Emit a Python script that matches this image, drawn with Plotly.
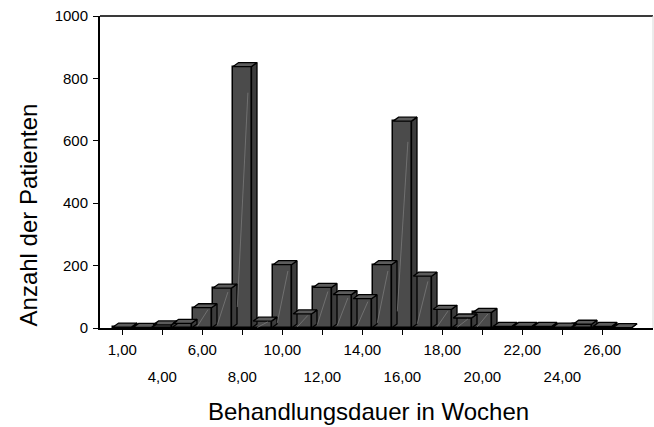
import plotly.graph_objects as go

# ---- data ----
weeks = [1, 2, 4, 5, 6, 7, 8, 9, 10, 11, 12, 13, 14, 15, 16, 17, 18, 19, 20,
         21, 22, 23, 24, 25, 26, 27]
patients = [3, 2, 10, 15, 65, 128, 838, 22, 203, 45, 130, 107, 94, 203, 663,
            166, 60, 32, 50, 5, 5, 5, 3, 12, 5, 1]
week_labels = ["%d,00" % w for w in weeks]
y_ticks = [0, 200, 400, 600, 800, 1000]

FONT = "Liberation Sans, Arial, sans-serif"
W = 0.92        # front face width (category units)
DX = 0.275      # depth offset x (category units)
DY = 12.8       # depth offset y (value units)

idx = list(range(len(weeks)))

# side faces, top faces and the faint shading streaks, built from data
side_x, side_y, top_x, top_y, st_x, st_y = [], [], [], [], [], []
for i, v in zip(idx, patients):
    r = i + W / 2
    l = i - W / 2
    side_x += [r, r + DX, r + DX, r, r, None]
    side_y += [0, DY, v + DY, v, 0, None]
    top_x += [l, l + DX, r + DX, r, l, None]
    top_y += [v, v + DY, v + DY, v, v, None]
    if v >= 20:
        st_x += [i - 0.25, i + 0.28, None]
        st_y += [v * 0.08, v * 0.9, None]

fig = go.Figure()
fig.add_trace(go.Scatter(x=side_x, y=side_y, mode="lines", fill="toself",
                         fillcolor="#3c3c3c", line=dict(color="black", width=1.3),
                         hoverinfo="skip", showlegend=False))
fig.add_trace(go.Scatter(x=top_x, y=top_y, mode="lines", fill="toself",
                         fillcolor="#5c5c5c", line=dict(color="black", width=1.3),
                         hoverinfo="skip", showlegend=False))
fig.add_trace(go.Bar(x=idx, y=patients, width=W,
                     marker=dict(color="#4b4b4b", line=dict(color="black", width=1.5)),
                     hoverinfo="skip", showlegend=False))
fig.add_trace(go.Scatter(x=st_x, y=st_y, mode="lines",
                         line=dict(color="#7a7a7a", width=0.8),
                         hoverinfo="skip", showlegend=False))
# invisible helper trace for the second label row axis
fig.add_trace(go.Scatter(x=[idx[0]], y=[0], xaxis="x2", mode="markers",
                         marker=dict(opacity=0), hoverinfo="skip", showlegend=False))

row2 = [i for i in idx if i % 4 == 2]
all_ticks = [i for i in idx if i % 2 == 0]
xr = [-1.115, 26.535]

fig.update_layout(
    width=654, height=427, autosize=False,
    margin=dict(l=100, r=1, t=16, b=99, autoexpand=False),
    paper_bgcolor="white", plot_bgcolor="white",
    font=dict(family=FONT, color="black", size=15),
    bargap=0,
    xaxis=dict(range=xr, tickmode="array", tickvals=all_ticks,
               ticktext=[week_labels[i] if i % 4 == 0 else "" for i in all_ticks],
               ticks="outside", ticklen=5, tickwidth=1, tickcolor="black",
               showline=True, linecolor="black", linewidth=2,
               showgrid=False, zeroline=False, ticklabelstandoff=2,
               tickfont=dict(size=15)),
    xaxis2=dict(range=xr, overlaying="x", anchor="y", side="bottom",
                tickmode="array", tickvals=row2,
                ticktext=[week_labels[i] for i in row2],
                ticks="", showline=False, showgrid=False, zeroline=False,
                ticklabelstandoff=38, tickfont=dict(size=15)),
    yaxis=dict(range=[0, 1000], tickmode="array", tickvals=y_ticks,
               ticktext=[str(t) for t in y_ticks],
               ticks="outside", ticklen=5, tickwidth=1, tickcolor="black",
               showline=True, linecolor="black", linewidth=2,
               showgrid=False, zeroline=False, ticklabelstandoff=2,
               tickfont=dict(size=15)),
    shapes=[
        dict(type="line", xref="paper", yref="paper", x0=0, x1=1, y0=1, y1=1,
             line=dict(color="#3a3a3a", width=2)),
        dict(type="line", xref="paper", yref="paper", x0=1, x1=1, y0=0, y1=1,
             line=dict(color="#d8d8d8", width=1)),
    ],
    annotations=[
        dict(text="Behandlungsdauer in Wochen", xref="paper", yref="paper",
             x=0.486, y=-0.268, showarrow=False, font=dict(size=24),
             xanchor="center", yanchor="middle"),
        dict(text="Anzahl der Patienten", xref="paper", yref="paper",
             x=-0.130, y=0.361, showarrow=False, font=dict(size=24),
             textangle=-90, xanchor="center", yanchor="middle"),
    ],
)

fig.write_html("out.html", config={"responsive": False, "displayModeBar": False},
               post_script="document.body.style.margin='0';"
                           "document.body.style.padding='0';"
                           "document.body.style.overflow='hidden';")
